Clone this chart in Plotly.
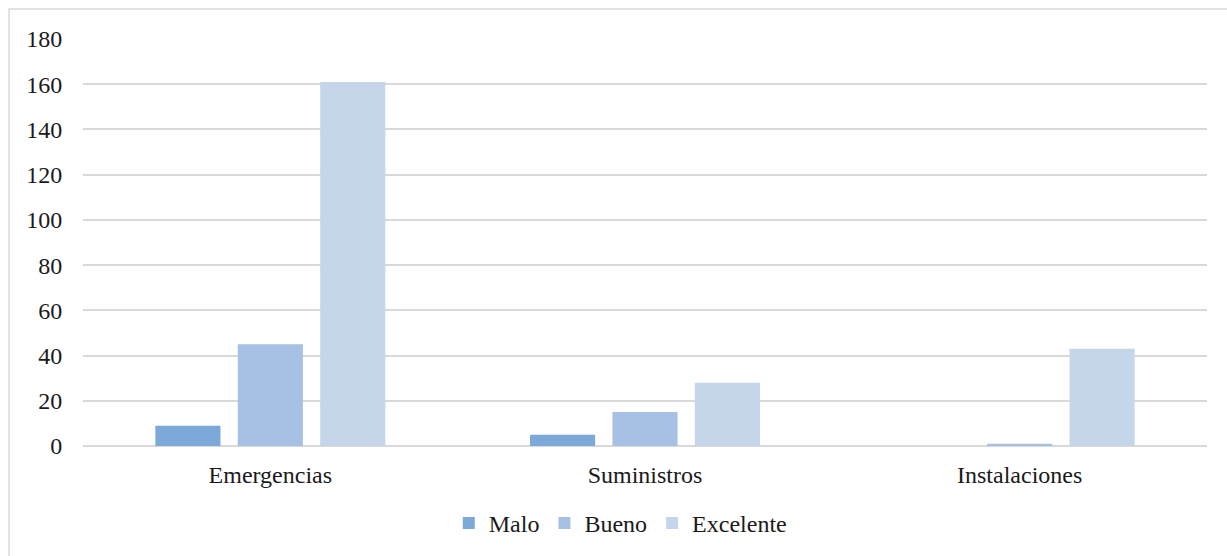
import plotly.graph_objects as go

categories = ["Emergencias", "Suministros", "Instalaciones"]
malo = [9, 5, 0]
bueno = [45, 15, 1]
excelente = [161, 28, 43]
y_ticks = [0, 20, 40, 60, 80, 100, 120, 140, 160, 180]

series = [
    ("Malo", malo, "#7DA9D9"),
    ("Bueno", bueno, "#A6C1E4"),
    ("Excelente", excelente, "#C5D5EA"),
]

FONT = "'Times New Roman', 'Liberation Serif', 'DejaVu Serif', serif"
TEXT = "#1a1a1a"
GRID = "#D9D9D9"
SIZE = 24

fig = go.Figure()
for name, vals, color in series:
    fig.add_trace(go.Bar(
        x=categories, y=vals, name=name,
        marker=dict(color=color, line=dict(width=0)),
    ))

fig.update_layout(
    width=1227, height=556,
    margin=dict(l=83, r=20, t=39, b=110, autoexpand=False),
    paper_bgcolor="white", plot_bgcolor="white",
    barmode="group", bargap=0.34, bargroupgap=0.21,
    font=dict(family=FONT, size=SIZE, color=TEXT),
    showlegend=True,
    legend=dict(
        orientation="h", x=0.478, xanchor="center", y=-0.19, yanchor="middle",
        font=dict(family=FONT, size=SIZE, color=TEXT),
        itemwidth=30, tracegroupgap=0,
    ),
    xaxis=dict(
        showgrid=False, showline=False, zeroline=False, automargin=False,
        ticks="outside", ticklen=7, tickcolor="rgba(0,0,0,0)",
        tickfont=dict(family=FONT, size=SIZE, color=TEXT),
    ),
    yaxis=dict(
        range=[0, 180], tickvals=y_ticks, showgrid=True, automargin=False,
        gridcolor=GRID, gridwidth=1.5, zeroline=True, zerolinecolor=GRID,
        zerolinewidth=1.5, showline=False,
        ticks="outside", ticklen=15, tickcolor="rgba(0,0,0,0)",
        tickfont=dict(family=FONT, size=SIZE, color=TEXT),
    ),
    shapes=[dict(
        type="rect", xref="paper", yref="paper",
        x0=-0.0658, x1=1.2, y0=-0.6, y1=1.0737,
        line=dict(color=GRID, width=1.5), fillcolor="rgba(0,0,0,0)",
        layer="below",
    )],
)

fig.write_html("out.html")
